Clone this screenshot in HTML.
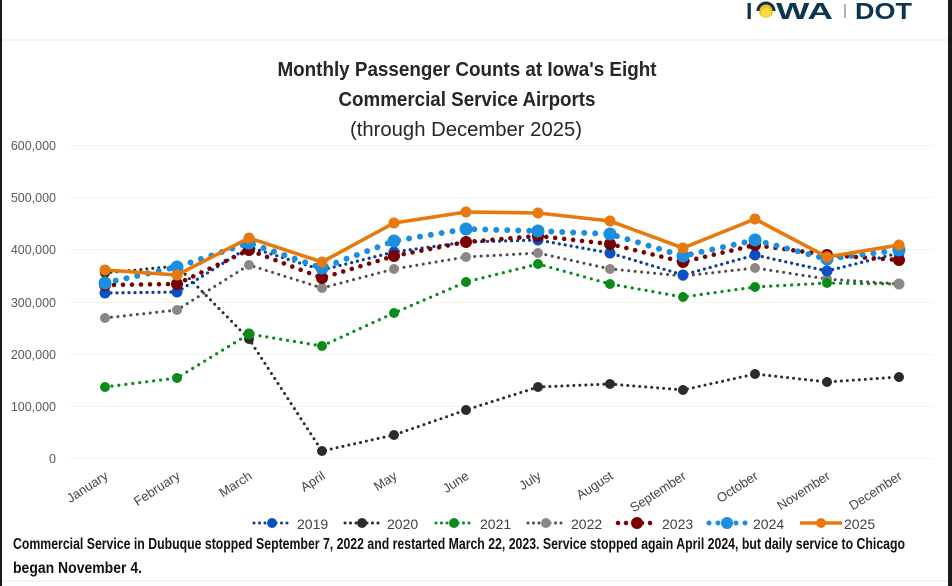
<!DOCTYPE html>
<html>
<head>
<meta charset="utf-8">
<style>
html,body{margin:0;padding:0;background:#fff;}
svg{display:block;}
text{font-family:"Liberation Sans",sans-serif;}
</style>
</head>
<body>
<svg width="952" height="586" viewBox="0 0 952 586" xmlns="http://www.w3.org/2000/svg">
<rect x="0" y="0" width="952" height="586" fill="#fff"/>
<!-- borders -->
<rect x="0" y="0" width="2" height="586" fill="#1a1a1a"/>
<rect x="948" y="0" width="4" height="586" fill="#1a1a1a"/>
<line x1="2" y1="40" x2="948" y2="40" stroke="#f6f6e6" stroke-width="2"/>
<line x1="2" y1="581" x2="948" y2="581" stroke="#f6f6e6" stroke-width="2"/>

<!-- logo -->
<text x="746" y="19" font-size="23" font-weight="bold" fill="#0d3552">I</text>
<circle cx="766" cy="11" r="7" fill="#f2c21a"/>
<circle cx="766" cy="13" r="5" fill="#f7dc4a"/>
<path d="M758 11 A8 8 0 0 1 774 11" fill="none" stroke="#0d3552" stroke-width="3"/>
<text x="776" y="19" font-size="23" font-weight="bold" fill="#0d3552" textLength="57" lengthAdjust="spacingAndGlyphs">WA</text>
<line x1="845" y1="4" x2="845" y2="18" stroke="#8a9aa8" stroke-width="1.5"/>
<text x="855" y="19" font-size="23" font-weight="bold" fill="#0d3552" textLength="57" lengthAdjust="spacingAndGlyphs">DOT</text>

<!-- title -->
<text x="467" y="76" font-size="20" font-weight="bold" fill="#262626" text-anchor="middle" textLength="379" lengthAdjust="spacingAndGlyphs">Monthly Passenger Counts at Iowa's Eight</text>
<text x="467" y="106" font-size="20" font-weight="bold" fill="#262626" text-anchor="middle" textLength="257" lengthAdjust="spacingAndGlyphs">Commercial Service Airports</text>
<text x="466" y="136" font-size="20" fill="#262626" text-anchor="middle" textLength="232" lengthAdjust="spacingAndGlyphs">(through December 2025)</text>

<!-- gridlines -->
<g stroke="#f5f5e4" stroke-width="1">
<line x1="70" y1="145.5" x2="932" y2="145.5"/>
<line x1="70" y1="197.5" x2="932" y2="197.5"/>
<line x1="70" y1="249.5" x2="932" y2="249.5"/>
<line x1="70" y1="302.5" x2="932" y2="302.5"/>
<line x1="70" y1="354.5" x2="932" y2="354.5"/>
<line x1="70" y1="406.5" x2="932" y2="406.5"/>
<line x1="70" y1="458.5" x2="932" y2="458.5"/>
</g>
<!-- y labels -->
<g font-size="12.5" fill="#595959" text-anchor="end">
<text x="56" y="150">600,000</text>
<text x="56" y="202">500,000</text>
<text x="56" y="254">400,000</text>
<text x="56" y="307">300,000</text>
<text x="56" y="359">200,000</text>
<text x="56" y="411">100,000</text>
<text x="56" y="463">0</text>
</g>

<!-- month labels -->
<g font-size="13" fill="#444" text-anchor="end">
<text transform="translate(109,478) rotate(-33)">January</text>
<text transform="translate(181,478) rotate(-33)">February</text>
<text transform="translate(253,478) rotate(-33)">March</text>
<text transform="translate(326,478) rotate(-33)">April</text>
<text transform="translate(398,478) rotate(-33)">May</text>
<text transform="translate(470,478) rotate(-33)">June</text>
<text transform="translate(542,478) rotate(-33)">July</text>
<text transform="translate(614,478) rotate(-33)">August</text>
<text transform="translate(687,478) rotate(-33)">September</text>
<text transform="translate(759,478) rotate(-33)">October</text>
<text transform="translate(831,478) rotate(-33)">November</text>
<text transform="translate(903,478) rotate(-33)">December</text>
</g>

<!-- 2020 -->
<polyline fill="none" stroke="#2e2a26" stroke-width="3" stroke-linecap="round" stroke-dasharray="0 6"
 points="105,273 177,266 249,339 322,451 394,435 466,410 538,387 610,384 683,390 755,374 827,382 899,377"/>
<g fill="#2e2a26">
<circle cx="105" cy="273" r="5"/><circle cx="177" cy="266" r="5"/><circle cx="249" cy="339" r="5"/><circle cx="322" cy="451" r="5"/><circle cx="394" cy="435" r="5"/><circle cx="466" cy="410" r="5"/><circle cx="538" cy="387" r="5"/><circle cx="610" cy="384" r="5"/><circle cx="683" cy="390" r="5"/><circle cx="755" cy="374" r="5"/><circle cx="827" cy="382" r="5"/><circle cx="899" cy="377" r="5"/>
</g>

<!-- 2022 -->
<polyline fill="none" stroke="#4d4a47" stroke-width="3" stroke-linecap="round" stroke-dasharray="0 6.5"
 points="105,318 177,310 249,265 322,288 394,269 466,257 538,253 610,269 683,276 755,268 827,279 899,284"/>
<g fill="#8a8784">
<circle cx="105" cy="318" r="5"/><circle cx="177" cy="310" r="5"/><circle cx="249" cy="265" r="5"/><circle cx="322" cy="288" r="5"/><circle cx="394" cy="269" r="5"/><circle cx="466" cy="257" r="5"/><circle cx="538" cy="253" r="5"/><circle cx="610" cy="269" r="5"/><circle cx="683" cy="276" r="5"/><circle cx="755" cy="268" r="5"/><circle cx="827" cy="279" r="5"/>
</g>

<!-- 2021 -->
<polyline fill="none" stroke="#0b8a1c" stroke-width="3.2" stroke-linecap="round" stroke-dasharray="0 7"
 points="105,387 177,378 249,334 322,346 394,313 466,282 538,264 610,284 683,297 755,287 827,283 899,284"/>
<g fill="#0b8a1c">
<circle cx="105" cy="387" r="5"/><circle cx="177" cy="378" r="5"/><circle cx="249" cy="334" r="5.5"/><circle cx="322" cy="346" r="5"/><circle cx="394" cy="313" r="5"/><circle cx="466" cy="282" r="5"/><circle cx="538" cy="264" r="5"/><circle cx="610" cy="284" r="5"/><circle cx="683" cy="297" r="5"/><circle cx="755" cy="287" r="5"/><circle cx="827" cy="283" r="5"/>
</g>
<circle cx="899" cy="284" r="5.5" fill="#8a8784"/>

<!-- 2019 -->
<polyline fill="none" stroke="#0a3d9e" stroke-width="3.2" stroke-linecap="round" stroke-dasharray="0 6"
 points="105,293 177,292 249,247 322,270 394,252 466,242 538,240 610,253 683,275 755,255 827,271 899,253"/>
<g fill="#0b4fc4">
<circle cx="105" cy="293" r="5.5"/><circle cx="177" cy="292" r="5.5"/><circle cx="249" cy="247" r="5.5"/><circle cx="322" cy="270" r="5.5"/><circle cx="394" cy="252" r="5.5"/><circle cx="466" cy="242" r="5.5"/><circle cx="538" cy="240" r="5.5"/><circle cx="610" cy="253" r="5.5"/><circle cx="683" cy="275" r="5.5"/><circle cx="755" cy="255" r="5.5"/><circle cx="827" cy="271" r="5.5"/><circle cx="899" cy="253" r="5.5"/>
</g>

<!-- 2023 -->
<polyline fill="none" stroke="#780000" stroke-width="4.6" stroke-linecap="round" stroke-dasharray="0 9"
 points="105,285 177,284 249,250 322,278 394,256 466,242 538,236 610,244 683,262 755,245 827,255 899,260"/>
<g fill="#780000">
<circle cx="105" cy="285" r="6"/><circle cx="177" cy="284" r="6"/><circle cx="249" cy="250" r="6"/><circle cx="322" cy="278" r="6"/><circle cx="394" cy="256" r="6"/><circle cx="466" cy="242" r="6"/><circle cx="538" cy="236" r="6"/><circle cx="610" cy="244" r="6"/><circle cx="683" cy="262" r="6"/><circle cx="755" cy="245" r="6"/><circle cx="827" cy="255" r="6"/><circle cx="899" cy="260" r="6"/>
</g>

<!-- 2024 -->
<polyline fill="none" stroke="#1b8ee0" stroke-width="6" stroke-linecap="round" stroke-dasharray="0 11"
 points="105,283 177,267 249,243 322,268 394,241 466,229 538,231 610,234 683,256 755,240 827,259 899,250"/>
<g fill="#1b8ee0">
<circle cx="105" cy="283" r="6.5"/><circle cx="177" cy="267" r="6.5"/><circle cx="249" cy="243" r="6.5"/><circle cx="322" cy="268" r="6.5"/><circle cx="394" cy="241" r="6.5"/><circle cx="466" cy="229" r="6.5"/><circle cx="538" cy="231" r="6.5"/><circle cx="610" cy="234" r="6.5"/><circle cx="683" cy="256" r="6.5"/><circle cx="755" cy="240" r="6.5"/><circle cx="827" cy="259" r="6.5"/><circle cx="899" cy="250" r="6.5"/>
</g>

<!-- 2025 -->
<polyline fill="none" stroke="#e8790c" stroke-width="3.6" stroke-linejoin="round"
 points="105,270 177,275 249,238 322,262 394,223 466,212 538,213 610,221 683,248 755,219 827,257 899,245"/>
<g fill="#e8790c">
<circle cx="105" cy="270" r="5.5"/><circle cx="177" cy="275" r="5.5"/><circle cx="249" cy="238" r="5.5"/><circle cx="322" cy="262" r="5.5"/><circle cx="394" cy="223" r="5.5"/><circle cx="466" cy="212" r="5.5"/><circle cx="538" cy="213" r="5.5"/><circle cx="610" cy="221" r="5.5"/><circle cx="683" cy="248" r="5.5"/><circle cx="755" cy="219" r="5.5"/><circle cx="827" cy="257" r="5.5"/><circle cx="899" cy="245" r="5.5"/>
</g>

<!-- legend -->
<g font-size="14" fill="#404040">
<line x1="254" y1="523" x2="290" y2="523" stroke="#0a3d9e" stroke-width="3" stroke-linecap="round" stroke-dasharray="0 5.5"/>
<circle cx="272" cy="523" r="5" fill="#0b4fc4"/>
<text x="297" y="529">2019</text>
<line x1="345" y1="523" x2="379" y2="523" stroke="#2e2a26" stroke-width="3" stroke-linecap="round" stroke-dasharray="0 5.5"/>
<circle cx="362" cy="523" r="5" fill="#2e2a26"/>
<text x="387" y="529">2020</text>
<line x1="436" y1="523" x2="473" y2="523" stroke="#0b8a1c" stroke-width="3" stroke-linecap="round" stroke-dasharray="0 5.5"/>
<circle cx="454" cy="523" r="5" fill="#0b8a1c"/>
<text x="480" y="529">2021</text>
<line x1="528" y1="523" x2="564" y2="523" stroke="#4d4a47" stroke-width="3" stroke-linecap="round" stroke-dasharray="0 5.5"/>
<circle cx="546" cy="523" r="5" fill="#8a8784"/>
<text x="571" y="529">2022</text>
<line x1="618" y1="523" x2="656" y2="523" stroke="#780000" stroke-width="4.5" stroke-linecap="round" stroke-dasharray="0 8"/>
<circle cx="637" cy="523" r="6" fill="#780000"/>
<text x="662" y="529">2023</text>
<line x1="709" y1="523" x2="746" y2="523" stroke="#1b8ee0" stroke-width="5" stroke-linecap="round" stroke-dasharray="0 9"/>
<circle cx="727" cy="523" r="6" fill="#1b8ee0"/>
<text x="753" y="529">2024</text>
<line x1="800" y1="523" x2="842" y2="523" stroke="#e8790c" stroke-width="3.6"/>
<circle cx="821" cy="523" r="5" fill="#e8790c"/>
<text x="844" y="529">2025</text>
</g>

<!-- footnote -->
<text x="13" y="549" font-size="15.5" font-weight="bold" fill="#111" textLength="892" lengthAdjust="spacingAndGlyphs">Commercial Service in Dubuque stopped September 7, 2022 and restarted March 22, 2023. Service stopped again April 2024, but daily service to Chicago</text>
<text x="13" y="573" font-size="15.5" font-weight="bold" fill="#111" textLength="129" lengthAdjust="spacingAndGlyphs">began November 4.</text>
</svg>
</body>
</html>
